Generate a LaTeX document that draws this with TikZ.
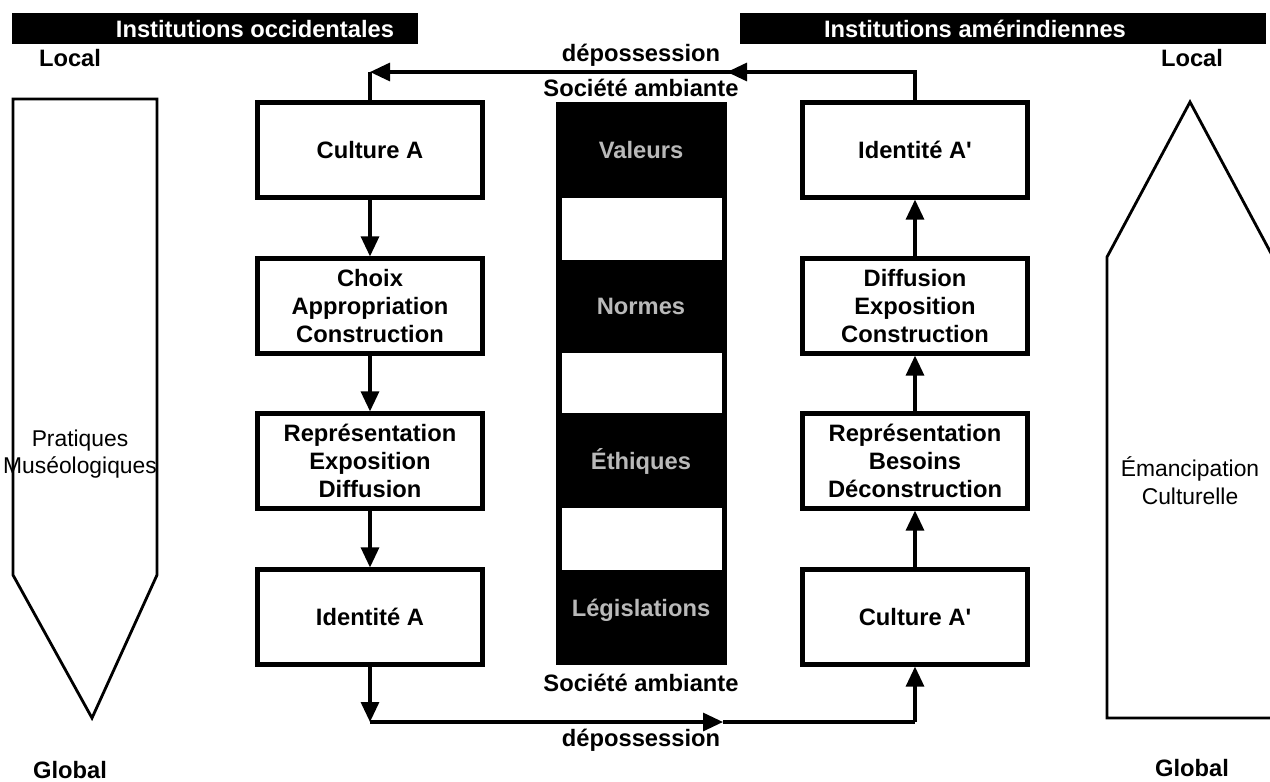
\documentclass[tikz,border=0pt]{standalone}
\usepackage{fontspec}
\setmainfont{Liberation Sans}
\usetikzlibrary{arrows.meta}
\newcommand{\boxfont}{\fontsize{13.5}{15.8}\selectfont\bfseries}
\newcommand{\plainfont}{\fontsize{13}{15.8}\selectfont}
\newcommand{\headfont}{\fontsize{13.5}{15}\selectfont\bfseries}
\tikzset{
  stage/.style={draw,line width=2.4pt,minimum width=4.5cm,minimum height=1.9cm,align=center,inner sep=0pt,font=\boxfont},
  flow/.style={line width=1.8pt,-{Triangle[length=0.4cm,width=0.36cm]}},
  flowline/.style={line width=1.8pt},
  outline/.style={line width=1.6pt,line join=miter},
  lbl/.style={font=\boxfont,align=center,inner sep=0pt},
  soft/.style={font=\plainfont,align=center,inner sep=0pt},
  valtext/.style={font=\boxfont,text=gray!55,inner sep=0pt},
  headtext/.style={font=\headfont,text=white,inner sep=0pt}
}
\begin{document}
\begin{tikzpicture}[x=0.02cm,y=-0.02cm]
\useasboundingbox (0,0) rectangle (1270,781);
\fill[black] (12,13) rectangle (418,44);
\node[headtext] (hocc) at (255,29) {Institutions occidentales};
\fill[black] (740,13) rectangle (1266,44);
\node[headtext] (hame) at (975,29) {Institutions amérindiennes};
\node[lbl] (locl) at (70,58) {Local};
\node[lbl] (locr) at (1192,58) {Local};
\node[lbl] (glol) at (70,770) {Global};
\node[lbl] (glor) at (1192,768) {Global};
\draw[outline] (13,99) -- (157,99) -- (157,575) -- (92,718) -- (13,575) -- cycle;
\node[soft] (prat) at (80,454) {Pratiques\\Muséologiques};
\draw[outline] (1107,718) -- (1107,257) -- (1190,102) -- (1273,257) -- (1273,718) -- cycle;
\node[soft] (eman) at (1190,481) {Émancipation\\Culturelle};
\fill[black] (556,102) rectangle (727,665);
\fill[white] (562,198) rectangle (722,260);
\fill[white] (562,353) rectangle (722,413);
\fill[white] (562,508) rectangle (722,570);
\node[valtext] (val) at (641,150) {Valeurs};
\node[valtext] (nor) at (641,306) {Normes};
\node[valtext] (eth) at (641,461) {Éthiques};
\node[valtext] (leg) at (641,610) {Législations};
\node[stage] (l1) at (370,150) {Culture A};
\node[stage] (l2) at (370,306) {Choix\\Appropriation\\Construction};
\node[stage] (l3) at (370,461) {Représentation\\Exposition\\Diffusion};
\node[stage] (l4) at (370,617) {Identité A};
\node[stage] (r1) at (915,150) {Identité A\textquotesingle};
\node[stage] (r2) at (915,306) {Diffusion\\Exposition\\Construction};
\node[stage] (r3) at (915,461) {Représentation\\Besoins\\Déconstruction};
\node[stage] (r4) at (915,617) {Culture A\textquotesingle};
\draw[flow] (l1) -- (l2);
\draw[flow] (l2) -- (l3);
\draw[flow] (l3) -- (l4);
\draw[flow] (r4) -- (r3);
\draw[flow] (r3) -- (r2);
\draw[flow] (r2) -- (r1);
\coordinate (tl) at (370,72);
\coordinate (tm) at (727,72);
\coordinate (tr) at (915,72);
\coordinate (bl) at (370,722);
\coordinate (bm) at (723,722);
\coordinate (br) at (915,722);
\draw[flowline] (r1.north) -- (tr) -- (tm);
\draw[flow] (tr) -- (tm);
\draw[flow] (tm) -- (tl);
\draw[flowline] (tl) -- (l1.north);
\draw[flow] (l4.south) -- (bl);
\draw[flow] (bl) -- (bm);
\draw[flowline] (bm) -- (br);
\draw[flow] (br) -- (r4.south);
\node[lbl] (dtop) at (641,55) {dépossession};
\node[lbl] (stop) at (641,88) {Société ambiante};
\node[lbl] (sbot) at (641,683) {Société ambiante};
\node[lbl] (dbot) at (641,740) {dépossession};
\end{tikzpicture}
\end{document}
